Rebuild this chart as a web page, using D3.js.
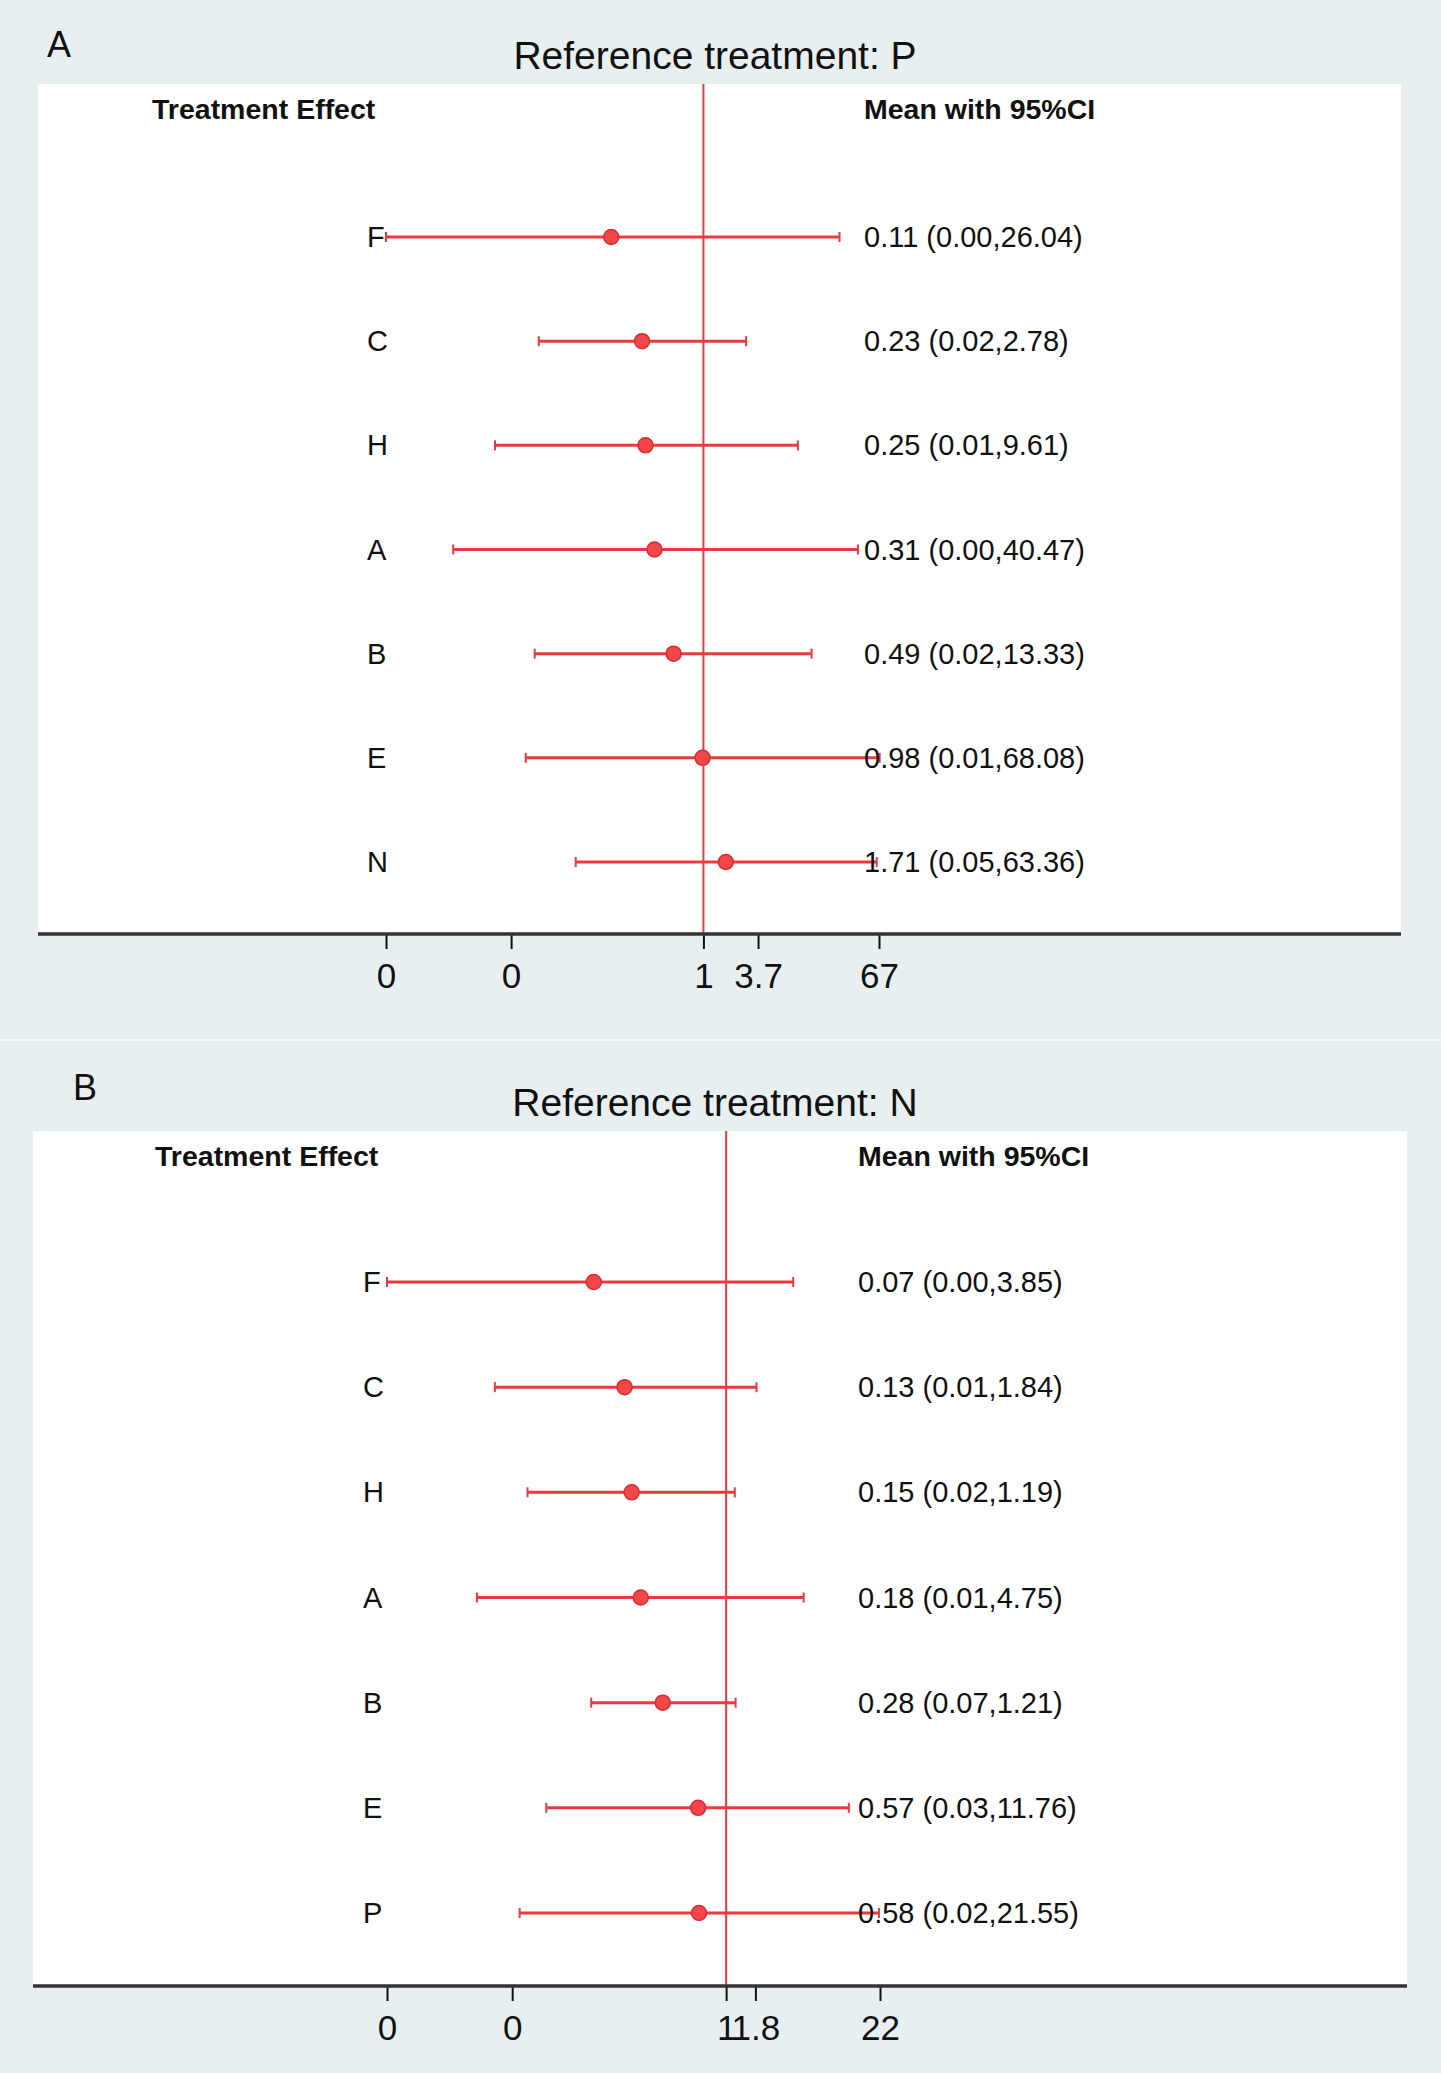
<!DOCTYPE html>
<html>
<head>
<meta charset="utf-8">
<style>
  body { margin: 0; background: #e8eff1; }
  svg { display: block; }
</style>
</head>
<body>
<div id="container"></div>
<script src="https://d3js.org/d3.v7.min.js"></script>
<script>

const width = 1441;
const height = 2073;

// Panel A: reference treatment P
const treatmentsA = ["F", "C", "H", "A", "B", "E", "N"];
const meanA  = [0.11, 0.23, 0.25, 0.31, 0.49, 0.98, 1.71];
const lowerA = [0.0005, 0.0194, 0.0068, 0.0025, 0.0176, 0.0142, 0.047];
const upperA = [26.04, 2.78, 9.61, 40.47, 13.33, 68.08, 63.36];
const tickValuesA = [0.0005, 0.01, 1, 3.7, 67];
const tickLabelsA = ["0", "0", "1", "3.7", "67"];

// Panel B: reference treatment N
const treatmentsB = ["F", "C", "H", "A", "B", "E", "P"];
const meanB  = [0.07, 0.13, 0.15, 0.18, 0.28, 0.57, 0.58];
const lowerB = [0.0011, 0.0096, 0.0185, 0.0067, 0.0665, 0.027, 0.0158];
const upperB = [3.85, 1.84, 1.19, 4.75, 1.21, 11.76, 21.55];
const tickValuesB = [0.0011, 0.0136, 1, 1.8, 22];
const tickLabelsB = ["0", "0", "1", "1.8", "22"];

const red = "#ea3a40";
const font = "'Liberation Sans', Arial, sans-serif";
const fmt = d3.format(".2f");

const svg = d3.create("svg")
    .attr("width", width)
    .attr("height", height)
    .style("font-family", font);

// background for the whole graph region
svg.append("rect")
    .attr("width", width).attr("height", height)
    .attr("fill", "#e8eff1");

// thin lighter divider between the two graphs
svg.append("line")
    .attr("x1", 0).attr("x2", width)
    .attr("y1", 1040).attr("y2", 1040)
    .attr("stroke", "#f4f8f9").attr("stroke-width", 2);

function drawPanel(p) {
    const g = svg.append("g");
    const data = p.treatments.map((t, i) => ({t, mean: p.mean[i], lo: p.lower[i], hi: p.upper[i]}));

    // white plot region
    g.append("rect")
        .attr("x", p.left).attr("y", p.top)
        .attr("width", p.right - p.left).attr("height", p.axisY - p.top)
        .attr("fill", "white");

    const x = d3.scaleLog()
        .domain([p.ticks[0], p.ticks[p.ticks.length - 1]])
        .range(p.xRange);

    const y = d3.scalePoint()
        .domain(p.treatments)
        .range(p.yRange);

    // panel letter and title
    g.append("text")
        .attr("x", p.letterX).attr("y", p.letterY)
        .attr("font-size", 36)
        .attr("fill", "#111")
        .text(p.letter);

    g.append("text")
        .attr("x", 715).attr("y", p.top - 15)
        .attr("text-anchor", "middle")
        .attr("font-size", 39)
        .attr("fill", "#111")
        .text(p.title);

    // column headers
    g.append("text")
        .attr("x", p.headX1).attr("y", p.top + 35)
        .attr("font-size", 28.5).attr("font-weight", "bold")
        .attr("fill", "#111")
        .text("Treatment Effect");
    g.append("text")
        .attr("x", p.valX).attr("y", p.top + 35)
        .attr("font-size", 28.5).attr("font-weight", "bold")
        .attr("fill", "#111")
        .text("Mean with 95%CI");

    // reference line at 1
    g.append("line")
        .attr("x1", x(1)).attr("x2", x(1))
        .attr("y1", p.top).attr("y2", p.axisY)
        .attr("stroke", red).attr("stroke-width", 2);

    // x axis
    const axis = g.append("g")
        .attr("transform", `translate(0,${p.axisY})`)
        .call(d3.axisBottom(x)
            .tickValues(p.ticks)
            .tickFormat((d, i) => p.tickLabels[i])
            .tickSize(15)
            .tickPadding(14))
        .call(a => a.select(".domain").remove());
    axis.selectAll(".tick line").attr("stroke", "#111").attr("stroke-width", 2);
    axis.selectAll(".tick text")
        .attr("fill", "#111")
        .attr("font-size", 35)
        .attr("font-family", font);

    g.append("line")
        .attr("x1", p.left).attr("x2", p.right)
        .attr("y1", p.axisY).attr("y2", p.axisY)
        .attr("stroke", "#333").attr("stroke-width", 3.5);

    const rows = g.selectAll(".row")
        .data(data)
        .join("g")
        .attr("class", "row")
        .attr("transform", d => `translate(0,${y(d.t)})`);

    rows.append("text")
        .attr("x", p.labelX).attr("y", 10)
        .attr("font-size", 29)
        .attr("fill", "#111")
        .text(d => d.t);

    rows.append("line")
        .attr("x1", d => x(d.lo)).attr("x2", d => x(d.hi))
        .attr("stroke", red).attr("stroke-width", 3);

    rows.selectAll(".cap")
        .data(d => [d.lo, d.hi])
        .join("line")
        .attr("class", "cap")
        .attr("x1", v => x(v)).attr("x2", v => x(v))
        .attr("y1", -5).attr("y2", 5)
        .attr("stroke", red).attr("stroke-width", 2);

    rows.append("circle")
        .attr("cx", d => x(d.mean))
        .attr("r", 7.5)
        .attr("fill", "#f2474a")
        .attr("stroke", "#dc2a30").attr("stroke-width", 1.5);

    rows.append("text")
        .attr("x", p.valX).attr("y", 10)
        .attr("font-size", 29)
        .attr("fill", "#111")
        .text(d => `${fmt(d.mean)} (${fmt(d.lo)},${fmt(d.hi)})`);
}

drawPanel({
    letter: "A", letterX: 47, letterY: 57,
    title: "Reference treatment: P",
    treatments: treatmentsA, mean: meanA, lower: lowerA, upper: upperA,
    ticks: tickValuesA, tickLabels: tickLabelsA,
    left: 38, right: 1401, top: 84, axisY: 934,
    xRange: [386, 879], yRange: [237, 862],
    labelX: 367, valX: 864, headX1: 152
});

drawPanel({
    letter: "B", letterX: 73, letterY: 1100,
    title: "Reference treatment: N",
    treatments: treatmentsB, mean: meanB, lower: lowerB, upper: upperB,
    ticks: tickValuesB, tickLabels: tickLabelsB,
    left: 33, right: 1407, top: 1131, axisY: 1986,
    xRange: [387, 880], yRange: [1282, 1913],
    labelX: 363, valX: 858, headX1: 155
});

container.append(svg.node());
</script>
</body>
</html>
